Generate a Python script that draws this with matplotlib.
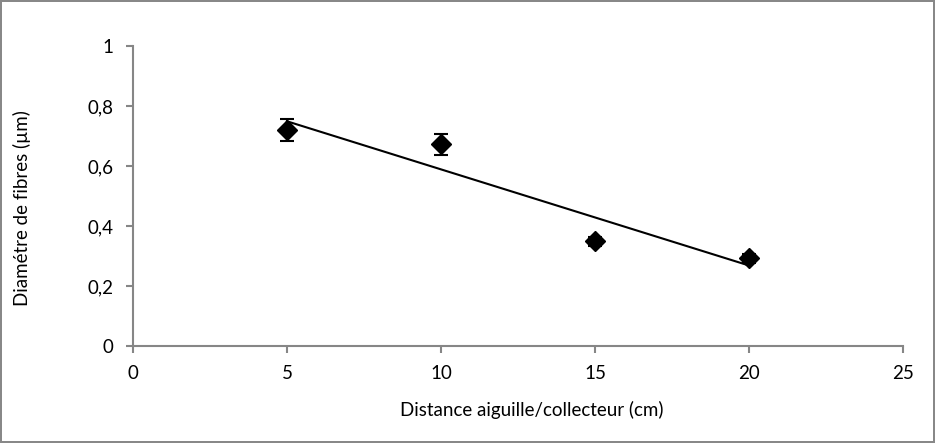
import numpy as np
import matplotlib.pyplot as plt
from matplotlib.ticker import FuncFormatter

plt.rcParams['font.family'] = ['Lato', 'DejaVu Sans']

# data
distance = [5, 10, 15, 20]
diametre = [0.72, 0.672, 0.35, 0.293]
erreur = [0.037, 0.035, 0.015, 0.015]

x_ticks = [0, 5, 10, 15, 20, 25]
y_ticks = [0, 0.2, 0.4, 0.6, 0.8, 1]

fig = plt.figure(figsize=(9.35, 4.43), dpi=100)
fig.patch.set_edgecolor('#888888')
fig.patch.set_linewidth(1.5)
ax = fig.add_axes([0.1422, 0.219, 0.8236, 0.677])

# linear trend line (least squares, like Excel)
a, b = np.polyfit(distance, diametre, 1)
xl = np.array([min(distance), max(distance)])
ax.plot(xl, a * xl + b, color='black', lw=1.5, zorder=2)

ax.errorbar(distance, diametre, yerr=erreur, fmt='D', color='black',
            markersize=10, ecolor='black', elinewidth=1.5, capsize=5,
            capthick=1.5, zorder=3)

ax.set_xlim(0, 25)
ax.set_ylim(0, 1)
ax.set_xticks(x_ticks)
ax.set_yticks(y_ticks)
ax.yaxis.set_major_formatter(FuncFormatter(lambda v, p: ('%g' % v).replace('.', ',')))

for s in ['top', 'right']:
    ax.spines[s].set_visible(False)
for s in ['left', 'bottom']:
    ax.spines[s].set_color('#868686')
    ax.spines[s].set_linewidth(1.5)
ax.tick_params(colors='#868686', length=5, width=1.5, labelcolor='black',
               labelsize=13.5, pad=9)

ax.set_xlabel('Distance aiguille/collecteur (cm)', fontsize=13.5)
ax.set_ylabel('Diamétre de fibres (µm)', fontsize=13.5)
ax.xaxis.set_label_coords(0.518, -0.213)
ax.yaxis.set_label_coords(-0.144, 0.46)
ax.xaxis.label.set_va('center')
ax.yaxis.label.set_va('center')

fig.savefig('out.png', dpi=100, edgecolor=fig.get_edgecolor())
